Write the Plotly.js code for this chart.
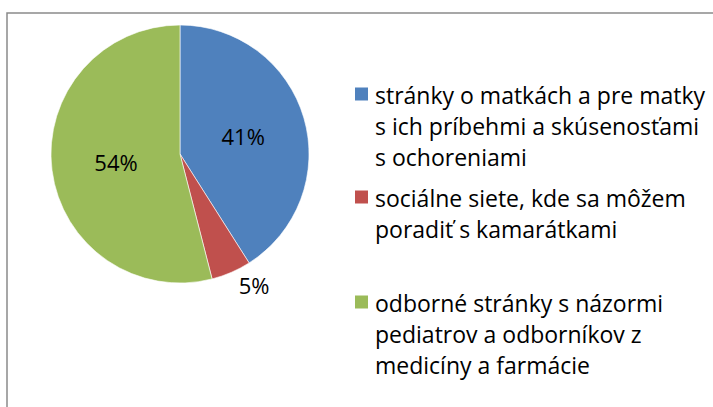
<!DOCTYPE html>
<html><head><meta charset="utf-8">
<script src="https://cdn.plot.ly/plotly-3.0.1.min.js"></script>
<style>html,body{margin:0;padding:0;background:#fff;}#chart{width:713px;height:407px;}</style>
</head><body><div id="chart"></div>
<script>
// Data
const categories = [
  "stránky o matkách a pre matky s ich príbehmi a skúsenosťami s ochoreniami",
  "sociálne siete, kde sa môžem poradiť s kamarátkami",
  "odborné stránky s názormi pediatrov a odborníkov z medicíny a farmácie"
];
const values = [41, 5, 54];
const colors = ["#4F81BD", "#C0504D", "#9BBB59"];
const legendLines = [
  ["stránky o matkách a pre matky", "s ich príbehmi a skúsenosťami", "s ochoreniami"],
  ["sociálne siete, kde sa môžem", "poradiť s kamarátkami"],
  ["odborné stránky s názormi", "pediatrov a odborníkov z", "medicíny a farmácie"]
];

const W = 713, H = 407;
const px = x => x / W;
const py = y => 1 - y / H;
const FONT = "'Open Sans', 'Noto Sans', sans-serif";

// legend layout (pixels)
const itemTop = [94, 197, 302];   // centre of first line of each item
const lineGap = 31;
const annotations = [];
const shapes = [];
legendLines.forEach((lines, i) => {
  shapes.push({type: "rect", xref: "paper", yref: "paper",
    x0: px(355), x1: px(368), y0: py(itemTop[i] - 6.5), y1: py(itemTop[i] + 6.5),
    fillcolor: colors[i], line: {width: 0}});
  lines.forEach((t, j) => {
    annotations.push({xref: "paper", yref: "paper", x: px(373), y: py(itemTop[i] + 1 + j * lineGap),
      xanchor: "left", yanchor: "middle", text: t, showarrow: false,
      font: {family: FONT, size: 23, color: "#000"}});
  });
});
// chart border
shapes.push({type: "rect", xref: "paper", yref: "paper",
  x0: px(7), x1: px(730), y0: py(13), y1: py(430),
  line: {color: "#8a8a8a", width: 1.5}, fillcolor: "rgba(0,0,0,0)"});

const trace = {
  type: "pie",
  labels: categories,
  values: values,
  sort: false,
  direction: "clockwise",
  rotation: 0,
  marker: {colors: colors, line: {color: "#ffffff", width: 0.6}},
  textinfo: "percent",
  texttemplate: "%{percent:.0%}",
  textposition: ["inside", "outside", "inside"],
  insidetextorientation: "horizontal",
  textfont: {family: FONT, size: 22, color: "#000"},
  outsidetextfont: {family: FONT, size: 22, color: "#000"},
  insidetextfont: {family: FONT, size: 22, color: "#000"},
  hoverinfo: "label+percent",
  domain: {x: [px(51), px(309)], y: [py(283), py(25)]},
  automargin: false
};

Plotly.newPlot("chart", [trace], {
  width: W, height: H,
  margin: {l: 0, r: 0, t: 0, b: 0},
  paper_bgcolor: "#fff",
  showlegend: false,
  annotations: annotations,
  shapes: shapes
}, {displayModeBar: false, staticPlot: true});
</script></body></html>
